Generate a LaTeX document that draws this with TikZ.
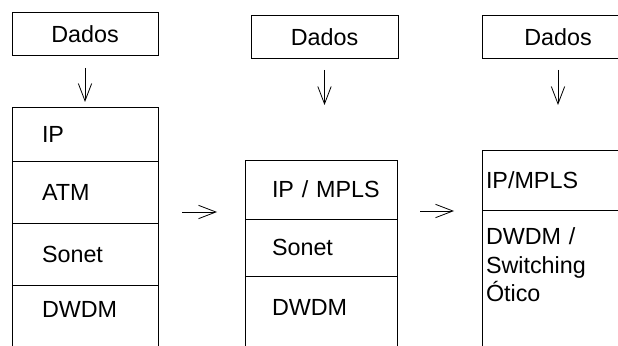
\documentclass[tikz,border=0pt]{standalone}
\usepackage{fontspec}
\setmainfont{Liberation Sans}
\usetikzlibrary{arrows.meta, positioning}
\newcommand{\lbl}{\fontsize{17.5}{21.4}\selectfont}

\begin{document}
\begin{tikzpicture}[
    x=0.75pt, y=-0.75pt,
    frame/.style={draw, line width=0.75pt, outer sep=0pt},
    dados/.style={frame, anchor=north west, font=\lbl, inner sep=0pt,
                  minimum height=32.25pt},
    layer/.style={frame, font=\lbl, align=left, inner ysep=0pt},
    bottomlayer/.style={layer, draw=none},
    stackA/.style={inner xsep=22.5pt, text width=64.5pt},
    stackB/.style={inner xsep=20.25pt, text width=73.5pt},
    stackC/.style={inner xsep=3pt, text width=105pt},
    flow/.style={-{Straight Barb[length=13pt, width=10pt]}, line width=0.6pt},
]
\useasboundingbox (0,0) rectangle (618,346);

% Dados boxes
\node[dados, minimum width=109.5pt] (d1) at (12,13) {Dados};
\node[dados, minimum width=110.25pt] (d2) at (251,16) {Dados};
\node[dados, minimum width=114pt] (d3) at (482,16) {Dados};

% stack 1
\node[layer, stackA, anchor=north west, minimum height=39.75pt] (ip1) at (12,108) {IP};
\node[layer, stackA, below=0pt of ip1, minimum height=46.5pt] (atm1) {ATM};
\node[layer, stackA, below=0pt of atm1, minimum height=46.5pt] (son1) {Sonet};
\node[bottomlayer, stackA, below=0pt of son1, minimum height=36pt] (dw1) {DWDM};

% stack 2
\node[layer, stackB, anchor=north west, minimum height=44.25pt] (ip2) at (245,160) {IP~/~MPLS};
\node[layer, stackB, below=0pt of ip2, minimum height=42.75pt] (son2) {Sonet};
\node[bottomlayer, stackB, below=0pt of son2, minimum height=46.5pt] (dw2) {DWDM};

% stack 3
\node[layer, stackC, anchor=north west, minimum height=45pt] (ip3) at (482,150) {IP/MPLS};
\node[bottomlayer, stackC, below=0pt of ip3, minimum height=82.5pt] (dw3) {DWDM /\\ Switching\\ Ótico};

% open sides of the bottom layers
\foreach \s in {dw1, dw2, dw3}
  \draw[frame] (\s.north west) -- ++(0,160) (\s.north east) -- ++(0,160);

% arrows
\draw[flow, shorten <=9pt, shorten >=4.5pt] (d1.south) -- (d1.south |- ip1.north);
\draw[flow, shorten <=8.25pt, shorten >=41.25pt] (d2.south) -- (d2.south |- ip2.north);
\draw[flow, shorten <=8.25pt, shorten >=33.75pt] (d3.south) -- (d3.south |- ip3.north);

\coordinate (g1a) at (182,212);
\coordinate (g1b) at (217,212);
\coordinate (g2a) at (420,211);
\coordinate (g2b) at (454,211);
\draw[flow] (g1a) -- (g1b);
\draw[flow] (g2a) -- (g2b);
\end{tikzpicture}
\end{document}
